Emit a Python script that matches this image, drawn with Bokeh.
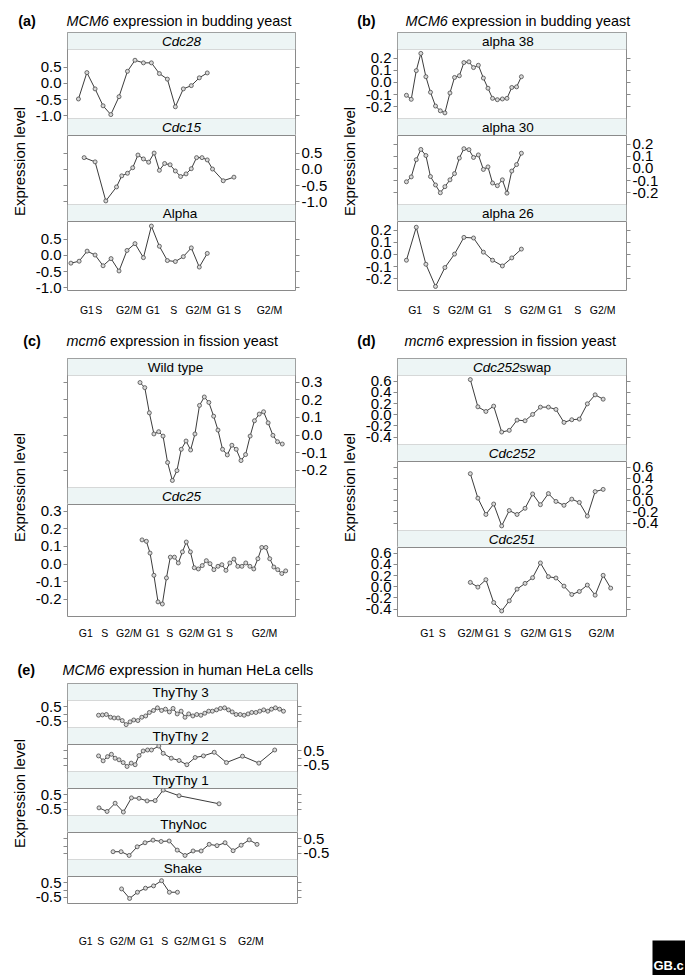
import math
from bokeh.plotting import figure
from bokeh.models import (Range1d, LinearAxis, FixedTicker, PrintfTickFormatter,
                          BoxAnnotation, Label, Spacer)
from bokeh.layouts import row, column
from bokeh.core.properties import value
from bokeh.embed import file_html
from bokeh.resources import INLINE

FONT = "Liberation Sans"
STRIP_FILL = "#edf5f5"
BOX = "#8a8a8a"
LINE = "#3c3c3c"
PT_LINE = "#4a4a4a"
PT_FILL = "#d8d8d8"

# ---------------- data (x = position across panel, 0-100) ----------------
phase_labels = ["G1", "S", "G2/M", "G1", "S", "G2/M", "G1", "S", "G2/M"]

# (a) MCM6, budding yeast
a_xticks = [8.5, 13.7, 26.9, 37.4, 46.6, 57.4, 68.5, 74.6, 88.6]
a_yticks = [-1.0, -0.5, 0.0, 0.5]
a_cdc28_x = [4.8, 8.5, 12.1, 15.6, 19.0, 22.6, 26.3, 29.6, 33.3, 36.8, 40.3, 43.8, 47.3, 50.8, 54.3, 57.8, 61.3]
a_cdc28_y = [-0.48, 0.33, -0.17, -0.69, -0.96, -0.41, 0.37, 0.71, 0.63, 0.63, 0.30, 0.13, -0.72, -0.17, -0.07, 0.17, 0.32]
a_cdc15_x = [7.3, 12.1, 16.8, 21.5, 23.8, 26.3, 28.6, 30.9, 33.3, 35.6, 38.0, 40.3, 42.6, 45.0, 47.3, 49.6, 52.0, 54.3, 56.6, 59.0, 61.3, 63.6, 68.3, 73.0]
a_cdc15_y = [0.36, 0.23, -0.97, -0.54, -0.20, -0.12, 0.05, 0.44, 0.32, 0.22, 0.50, -0.03, 0.18, 0.14, -0.05, -0.22, -0.14, 0.02, 0.36, 0.36, 0.29, 0.01, -0.35, -0.24]
a_alpha_x = [1.5, 5.1, 8.6, 12.1, 15.6, 19.1, 22.6, 26.1, 29.6, 33.3, 36.8, 40.3, 43.8, 47.3, 50.8, 54.3, 57.8, 61.3]
a_alpha_y = [-0.24, -0.18, 0.13, 0.01, -0.32, -0.10, -0.48, 0.15, 0.36, -0.07, 0.90, 0.28, -0.16, -0.19, -0.04, 0.23, -0.36, 0.06]

# (b) MCM6, budding yeast, alpha series
b_xticks = [7.7, 16.9, 27.7, 38.3, 48.1, 59.0, 68.9, 78.7, 89.6]
b_yticks = [-0.2, -0.1, 0.0, 0.1, 0.2]
b_alpha38_x = [3.9, 6.0, 8.2, 10.2, 12.4, 14.4, 16.6, 18.7, 20.7, 22.9, 24.9, 27.0, 29.0, 31.2, 33.2, 35.3, 37.5, 39.5, 41.5, 43.6, 45.8, 47.8, 49.9, 52.0, 54.1]
b_alpha38_y = [-0.105, -0.138, 0.097, 0.238, 0.047, -0.080, -0.193, -0.232, -0.249, -0.086, 0.041, 0.055, 0.163, 0.169, 0.122, 0.141, 0.036, -0.047, -0.130, -0.141, -0.135, -0.130, -0.041, -0.036, 0.047]
b_alpha30_x = [3.9, 6.0, 8.2, 10.2, 12.4, 14.4, 16.6, 18.7, 20.7, 22.9, 24.9, 27.0, 29.0, 31.2, 33.2, 35.3, 37.5, 39.5, 41.5, 43.6, 45.8, 47.8, 49.9, 52.0, 54.1]
b_alpha30_y = [-0.109, -0.069, 0.072, 0.156, 0.106, -0.066, -0.135, -0.199, -0.149, -0.093, -0.042, 0.085, 0.162, 0.154, 0.090, 0.111, -0.008, 0.013, -0.119, -0.141, -0.093, -0.202, -0.021, 0.032, 0.125]
b_alpha26_x = [3.9, 8.2, 12.4, 16.6, 20.7, 24.9, 29.0, 33.2, 37.5, 41.5, 45.8, 49.9, 54.1]
b_alpha26_y = [-0.047, 0.223, -0.080, -0.262, -0.107, 0.003, 0.140, 0.135, 0.019, -0.047, -0.094, -0.028, 0.044]

# (c) mcm6, fission yeast
c_xticks = [8.0, 16.3, 26.9, 37.4, 44.8, 54.4, 64.5, 71.1, 86.4]
c_yticks = [-0.2, -0.1, 0.0, 0.1, 0.2, 0.3]
c_wt_x = [31.8, 33.9, 35.9, 37.9, 40.0, 41.9, 43.9, 46.0, 48.0, 49.9, 52.0, 54.0, 55.9, 57.9, 60.0, 62.0, 64.1, 66.0, 68.0, 70.1, 72.1, 74.0, 76.1, 78.1, 80.1, 82.0, 84.1, 86.0, 88.0, 90.1, 92.1, 94.2]
c_wt_y = [0.298, 0.269, 0.126, 0.006, 0.019, -0.006, -0.156, -0.258, -0.202, -0.081, -0.034, -0.085, 0.006, 0.168, 0.216, 0.185, 0.107, 0.028, -0.081, -0.113, -0.058, -0.081, -0.145, -0.111, -0.006, 0.081, 0.119, 0.132, 0.069, -0.002, -0.038, -0.051]
c_cdc25_x = [32.7, 34.6, 36.2, 37.9, 39.7, 41.6, 43.4, 45.1, 46.9, 48.6, 50.4, 52.1, 53.9, 55.6, 57.4, 59.1, 60.9, 62.5, 64.2, 66.0, 67.7, 69.5, 71.2, 73.0, 74.7, 76.5, 78.2, 80.0, 81.7, 83.5, 85.2, 87.0, 88.7, 90.5, 92.2, 94.0, 95.7]
c_cdc25_y = [0.137, 0.129, 0.062, -0.064, -0.215, -0.227, -0.079, 0.039, 0.039, 0.006, 0.069, 0.125, 0.069, -0.021, -0.028, -0.009, 0.019, 0.002, -0.032, -0.013, -0.004, -0.036, 0.006, 0.028, -0.013, -0.013, 0.006, -0.013, -0.028, 0.030, 0.094, 0.094, 0.030, -0.017, -0.032, -0.054, -0.039]

# (d) mcm6, fission yeast, cdc25 blocks
d_xticks = [13.0, 19.5, 31.8, 41.4, 48.0, 59.3, 69.3, 74.5, 89.0]
d_yticks = [-0.4, -0.2, 0.0, 0.2, 0.4, 0.6]
d_swap_x = [31.8, 35.1, 38.6, 42.0, 45.5, 48.8, 52.2, 55.7, 59.0, 62.4, 65.9, 69.2, 72.7, 76.1, 79.4, 82.9, 86.3, 89.8]
d_swap_y = [0.627, 0.142, 0.059, 0.154, -0.308, -0.278, -0.095, -0.107, 0.006, 0.136, 0.136, 0.095, -0.136, -0.089, -0.077, 0.195, 0.355, 0.278]
d_cdc252_x = [31.8, 35.1, 38.6, 42.0, 45.5, 48.8, 52.2, 55.7, 59.0, 62.4, 65.9, 69.2, 72.7, 76.1, 79.4, 82.9, 86.3, 89.8]
d_cdc252_y = [0.483, 0.047, -0.244, -0.058, -0.448, -0.174, -0.244, -0.134, 0.122, -0.070, 0.128, -0.012, -0.081, 0.029, -0.029, -0.273, 0.163, 0.203]
d_cdc251_x = [31.8, 35.1, 38.6, 42.0, 45.5, 48.8, 52.2, 55.7, 59.0, 62.4, 65.9, 69.2, 72.7, 76.1, 79.4, 82.9, 86.3, 89.8, 93.1]
d_cdc251_y = [0.078, -0.006, 0.126, -0.281, -0.431, -0.251, -0.042, 0.060, 0.162, 0.425, 0.180, 0.156, 0.012, -0.138, -0.084, 0.030, -0.150, 0.204, -0.024]

# (e) MCM6, human HeLa cells
e_xticks = [7.9, 14.5, 24.0, 34.5, 42.3, 51.9, 61.4, 67.5, 79.7]
e_yticks = [-0.5, 0.0, 0.5]
e_tt3_x = [13.5, 15.2, 16.9, 18.7, 20.3, 22.0, 23.8, 25.5, 27.2, 28.8, 30.6, 32.3, 34.0, 35.6, 37.4, 39.1, 40.9, 42.6, 44.3, 45.9, 47.7, 49.4, 51.1, 52.7, 54.5, 56.2, 58.0, 59.7, 61.4, 63.0, 64.8, 66.5, 68.3, 70.0, 71.6, 73.3, 75.1, 76.8, 78.5, 80.1, 81.9, 83.6, 85.3, 87.1, 88.7, 90.4, 92.2, 93.9]
e_tt3_y = [-0.07, -0.05, -0.02, -0.21, -0.26, -0.26, -0.44, -0.72, -0.53, -0.40, -0.44, -0.21, -0.12, 0.12, 0.26, 0.44, 0.26, 0.35, 0.16, 0.40, 0.02, 0.21, -0.21, 0.02, -0.12, -0.02, -0.07, 0.07, 0.21, 0.21, 0.30, 0.40, 0.44, 0.30, 0.16, -0.02, -0.02, -0.07, 0.02, 0.12, 0.12, 0.21, 0.30, 0.21, 0.35, 0.44, 0.35, 0.21]
e_tt2_x = [13.5, 15.5, 17.4, 19.1, 20.7, 22.4, 24.2, 25.9, 27.7, 29.4, 31.1, 32.9, 34.8, 36.5, 39.7, 41.6, 45.1, 48.5, 51.9, 55.5, 59.1, 63.8, 69.1, 76.1, 83.2, 90.1]
e_tt2_y = [0.16, -0.18, 0.11, 0.27, 0.00, -0.11, -0.30, -0.57, -0.34, -0.45, 0.18, 0.50, 0.57, 0.57, 0.84, 0.34, 0.00, -0.16, -0.45, 0.05, 0.16, 0.41, -0.30, 0.14, -0.34, 0.57]
e_tt1_x = [13.7, 17.2, 20.7, 24.3, 27.8, 31.1, 34.6, 38.1, 41.6, 48.5, 65.9]
e_tt1_y = [-0.39, -0.64, -0.07, -0.68, 0.30, 0.27, 0.09, 0.11, 0.84, 0.45, -0.11]
e_noc_x = [19.8, 23.3, 26.8, 30.3, 33.7, 37.2, 40.7, 44.2, 47.7, 51.1, 54.6, 58.1, 61.6, 65.0, 68.5, 72.0, 75.5, 79.0, 82.4]
e_noc_y = [-0.38, -0.38, -0.64, -0.04, 0.24, 0.42, 0.33, 0.36, -0.27, -0.64, -0.33, -0.33, 0.13, 0.04, 0.24, -0.31, 0.07, 0.44, 0.13]
e_shake_x = [23.5, 27.0, 30.4, 33.9, 37.4, 40.9, 44.3, 47.8]
e_shake_y = [0.09, -0.57, -0.14, 0.14, 0.30, 0.66, -0.14, -0.14]

# ---------------- helpers ----------------
ARIAL_W = {"C": 0.722, "d": 0.556, "c": 0.5, "s": 0.5, "w": 0.722, "a": 0.556, "p": 0.556}
STRIP_FS = 13.5
OVERLAP = 8


def text_w(t, fs):
    return sum(ARIAL_W.get(ch, 0.556) for ch in t) * fs


def add_header(p, b, t, parts):
    p.add_layout(BoxAnnotation(left=0, right=100, bottom=b, top=t,
                               fill_color=STRIP_FILL, fill_alpha=1.0,
                               line_color=BOX, line_width=1, level="underlay"))
    widths = [text_w(s, STRIP_FS) for s, _ in parts]
    off = -sum(widths) / 2
    for (s, style), w in zip(parts, widths):
        p.add_layout(Label(x=50, y=(b + t) / 2, x_offset=off, text=s,
                           text_align="left", text_baseline="middle",
                           text_font=FONT, text_font_size=f"{STRIP_FS}px",
                           text_font_style=style, text_color="black"))
        off += w


def make_strip(spec, yrange, yticks, frame_w, head_h, plot_h, top_parts=None,
               below_parts=None, bottom=None, hide_zero=False):
    lo, hi = yrange
    ext = (hi - lo) * head_h / plot_h
    y0 = lo - ext if below_parts else lo
    y1 = hi + ext if top_parts else hi
    fh = plot_h + (head_h if top_parts else 0) + (head_h if below_parts else 0)
    bb = bottom["border"] if bottom else 0
    bt = 0 if top_parts else OVERLAP
    p = figure(frame_width=frame_w, frame_height=fh,
               x_range=Range1d(0, 100), y_range=Range1d(y0, y1),
               min_border_left=37, min_border_right=43, min_border_top=bt,
               min_border_bottom=bb, x_axis_location=None, y_axis_location=None,
               toolbar_location=None, output_backend="svg", title=None)
    p.grid.grid_line_color = None
    p.outline_line_color = BOX
    p.outline_line_width = 1
    p.background_fill_color = "white"
    if bt:
        # transparent top margin that overlaps the strip above, so that
        # tick labels near the top edge are not cut
        p.border_fill_alpha = 0
        p.margin = (-bt, 0, 0, 0)
    else:
        p.border_fill_color = "white"

    for side, show in (("left", spec["left"]), ("right", not spec["left"])):
        ax = LinearAxis(ticker=FixedTicker(ticks=yticks),
                        formatter=PrintfTickFormatter(format="%.1f"))
        ax.axis_line_color = None
        ax.major_tick_line_color = BOX
        ax.major_tick_out = 4
        ax.major_tick_in = 0
        ax.minor_tick_line_color = None
        ax.major_label_standoff = 2
        ax.major_label_text_font = FONT
        ax.major_label_text_font_size = "15px"
        ax.major_label_text_color = "black"
        if not show:
            ax.major_label_overrides = {t: "" for t in yticks}
        elif hide_zero:
            ax.major_label_overrides = {0.0: ""}
        p.add_layout(ax, side)

    if bottom:
        xa = LinearAxis(ticker=FixedTicker(ticks=bottom["ticks"]),
                        major_label_overrides={t: l for t, l in zip(bottom["ticks"], phase_labels)})
        xa.axis_line_color = None
        xa.major_tick_line_color = None
        xa.major_tick_out = 0
        xa.major_tick_in = 0
        xa.minor_tick_line_color = None
        xa.major_label_standoff = bottom["standoff"]
        xa.major_label_text_font = FONT
        xa.major_label_text_font_size = "10.5px"
        xa.major_label_text_color = "black"
        p.add_layout(xa, "below")

    if top_parts:
        add_header(p, hi, y1, top_parts)
    if below_parts:
        add_header(p, y0, lo, below_parts)

    p.line(spec["x"], spec["y"], line_color=LINE, line_width=1)
    p.scatter(spec["x"], spec["y"], marker="circle", size=4, line_color=PT_LINE,
              fill_color=PT_FILL, line_width=0.8)
    return p


def blank(width, height):
    p = figure(width=width, height=height, x_range=Range1d(0, width),
               y_range=Range1d(0, height), min_border=0, x_axis_location=None,
               y_axis_location=None, toolbar_location=None, output_backend="svg",
               title=None)
    p.grid.grid_line_color = None
    p.outline_line_color = None
    p.background_fill_color = "white"
    p.border_fill_color = "white"
    return p


def make_title(width, height, yc, parts):
    p = blank(width, height)
    for x, t, style in parts:
        p.text(x=[x], y=[height - yc], text=[t], text_font=value(FONT),
               text_font_size="14.4px", text_font_style=value(style),
               text_align="left", text_baseline="middle", text_color="black")
    return p


def make_ylab(height):
    p = blank(22, height)
    p.text(x=[11], y=[height / 2], text=["Expression level"], angle=math.pi / 2,
           text_font=value(FONT), text_font_size="15px", text_align="center",
           text_baseline="middle", text_color="black")
    return p


def panel(title, title_h, title_yc, specs, yrange, yticks, frame_w, head_h, plot_h,
          bottom, hide_zero=False):
    figs = []
    n = len(specs)
    for i, s in enumerate(specs):
        figs.append(make_strip(
            s, yrange, yticks, frame_w, head_h, plot_h,
            top_parts=s["parts"] if i == 0 else None,
            below_parts=specs[i + 1]["parts"] if i < n - 1 else None,
            bottom=bottom if i == n - 1 else None, hide_zero=hide_zero))
    total = n * (head_h + plot_h)
    width = 22 + frame_w + 37 + 43
    t = make_title(width, title_h, title_yc, title)
    return column(t, row(make_ylab(total), column(*figs)))


# ---------------- panels ----------------
A = panel([(9.7, "(a)", "bold"), (58, "MCM6", "italic"), (104.5, "expression in budding yeast", "normal")],
          24, 12,
          [{"parts": [("Cdc28", "italic")], "x": a_cdc28_x, "y": a_cdc28_y, "left": True},
           {"parts": [("Cdc15", "italic")], "x": a_cdc15_x, "y": a_cdc15_y, "left": False},
           {"parts": [("Alpha", "normal")], "x": a_alpha_x, "y": a_alpha_y, "left": True}],
          (-1.08, 1.04), a_yticks, 228, 17, 69,
          {"ticks": a_xticks, "standoff": 13, "border": 30})

B = panel([(18.7, "(b)", "bold"), (67, "MCM6", "italic"), (113.3, "expression in budding yeast", "normal")],
          24, 12,
          [{"parts": [("alpha 38", "normal")], "x": b_alpha38_x, "y": b_alpha38_y, "left": True},
           {"parts": [("alpha 30", "normal")], "x": b_alpha30_x, "y": b_alpha30_y, "left": False},
           {"parts": [("alpha 26", "normal")], "x": b_alpha26_x, "y": b_alpha26_y, "left": True}],
          (-0.295, 0.27), b_yticks, 229, 17, 69,
          {"ticks": b_xticks, "standoff": 13, "border": 30})

C = panel([(14.7, "(c)", "bold"), (58, "mcm6", "italic"), (101.5, "expression in fission yeast", "normal")],
          38, 20,
          [{"parts": [("Wild type", "normal")], "x": c_wt_x, "y": c_wt_y, "left": False},
           {"parts": [("Cdc25", "italic")], "x": c_cdc25_x, "y": c_cdc25_y, "left": True}],
          (-0.298, 0.338), c_yticks, 228, 17, 112,
          {"ticks": c_xticks, "standoff": 10, "border": 35})

D = panel([(18.7, "(d)", "bold"), (66, "mcm6", "italic"), (109.5, "expression in fission yeast", "normal")],
          38, 20,
          [{"parts": [("Cdc252", "italic"), ("swap", "normal")], "x": d_swap_x, "y": d_swap_y, "left": True},
           {"parts": [("Cdc252", "italic")], "x": d_cdc252_x, "y": d_cdc252_y, "left": False},
           {"parts": [("Cdc251", "italic")], "x": d_cdc251_x, "y": d_cdc251_y, "left": True}],
          (-0.53, 0.70), d_yticks, 229, 17, 69,
          {"ticks": d_xticks, "standoff": 10, "border": 35})

E = panel([(9, "(e)", "bold"), (54, "MCM6", "italic"), (100.8, "expression in human HeLa cells", "normal")],
          32, 18,
          [{"parts": [("ThyThy 3", "normal")], "x": e_tt3_x, "y": e_tt3_y, "left": True},
           {"parts": [("ThyThy 2", "normal")], "x": e_tt2_x, "y": e_tt2_y, "left": False},
           {"parts": [("ThyThy 1", "normal")], "x": e_tt1_x, "y": e_tt1_y, "left": True},
           {"parts": [("ThyNoc", "normal")], "x": e_noc_x, "y": e_noc_y, "left": False},
           {"parts": [("Shake", "normal")], "x": e_shake_x, "y": e_shake_y, "left": True}],
          (-0.92, 0.95), e_yticks, 230, 17, 27,
          {"ticks": e_xticks, "standoff": 31, "border": 50}, hide_zero=True)

# logo box (bottom right)
logo = figure(width=34, height=35, x_range=Range1d(0, 34), y_range=Range1d(0, 35),
              min_border=0, x_axis_location=None, y_axis_location=None,
              toolbar_location=None, output_backend="svg", title=None)
logo.grid.grid_line_color = None
logo.outline_line_color = None
logo.background_fill_color = "black"
logo.border_fill_color = "black"
logo.text(x=[1], y=[10], text=["GB.c"], text_font=value(FONT), text_font_size="13px",
          text_font_style=value("bold"), text_color="white", text_align="left",
          text_baseline="middle")

layout = row(
    Spacer(width=8, height=1),
    column(
        Spacer(width=1, height=8),
        row(A, B),
        row(C, D),
        row(E, Spacer(width=312, height=1), column(Spacer(width=1, height=289), logo)),
    ),
)

open("out.html", "w").write(file_html(layout, INLINE))
